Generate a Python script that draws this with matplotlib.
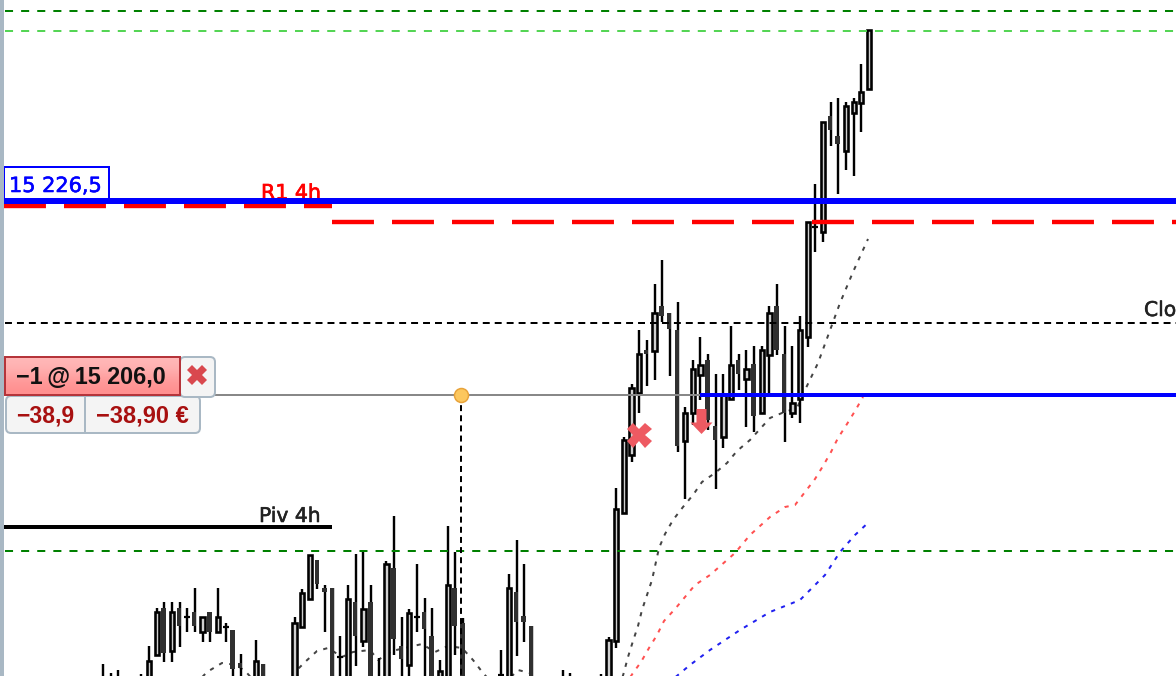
import matplotlib
matplotlib.use("Agg")
import matplotlib.pyplot as plt
import matplotlib.patheffects as pe
from matplotlib.patches import FancyBboxPatch, Rectangle
from matplotlib.path import Path
import numpy as np

plt.rcParams['lines.scale_dashes'] = False

# chart has no axis, values are read in chart rows (top = 0)
candle_idx = [0, 1, 2, 5, 6, 7, 8, 9, 10, 11, 12, 13, 14, 15, 16, 17, 18, 20, 21, 25, 26, 27, 28, 29, 30, 31, 32, 33, 34, 35,
              36, 37, 38, 39, 40, 41, 42, 43, 44, 45, 46, 47, 52, 53, 54, 55, 56, 60, 61, 65, 66, 67, 68, 69, 70, 71, 72, 73,
              74, 75, 76, 77, 78, 79, 80, 81, 82, 83, 84, 85, 86, 87, 88, 89, 90, 91, 92, 93, 94, 95, 96, 97, 98, 99, 100]
wick_top = [664, 673, 670, 674, 646, 608, 602, 602, 602, 608, 588, 617, 612, 588, 623, 630, 654, 640, 664, 617, 589, 555, 560, 585, 588, 636, 585, 554, 551, 585,
            658, 561, 516, 617, 609, 564, 598, 608, 660, 526, 552, 618, 650, 574, 540, 564, 626, 670, 673, 674, 637, 488, 437, 384, 330, 340, 284, 260,
            313, 302, 407, 360, 337, 354, 374, 374, 326, 354, 350, 346, 346, 306, 284, 326, 346, 316, 222, 184, 122, 102, 98, 102, 98, 64, 30]
wick_bot = [690, 690, 690, 690, 690, 655, 662, 662, 647, 632, 632, 642, 642, 632, 642, 690, 690, 690, 690, 690, 627, 599, 589, 632, 690, 690, 690, 666, 647, 690,
            690, 690, 655, 690, 690, 632, 690, 690, 690, 690, 655, 690, 690, 690, 656, 642, 690, 690, 690, 690, 690, 648, 513, 462, 413, 386, 380, 322,
            376, 452, 499, 425, 400, 430, 489, 448, 399, 390, 427, 432, 413, 393, 355, 442, 418, 423, 347, 252, 242, 146, 194, 170, 176, 132, 89]
body_top = [690, 690, 690, 690, 661, 612, 608, 612, 608, 617, 612, 617, 612, 617, 627, 630, 663, 661, 664, 623, 593, 555, 560, 588, 588, 657, 599, 602, 609, 602,
            690, 564, 568, 646, 613, 617, 612, 636, 671, 585, 588, 623, 675, 588, 592, 616, 626, 690, 690, 690, 640, 509, 440, 388, 354, 350, 313, 306,
            313, 330, 413, 369, 365, 360, 426, 395, 365, 360, 369, 364, 350, 313, 306, 354, 403, 330, 222, 227, 122, 116, 136, 106, 102, 92, 30]
body_bot = [690, 690, 690, 690, 690, 655, 653, 651, 626, 617, 626, 632, 632, 632, 627, 669, 668, 690, 690, 690, 627, 599, 584, 592, 690, 657, 690, 636, 641, 690,
            690, 690, 639, 659, 665, 617, 629, 690, 690, 690, 626, 690, 675, 690, 622, 622, 690, 690, 690, 690, 690, 641, 513, 455, 393, 354, 351, 316,
            329, 446, 441, 413, 375, 420, 440, 437, 399, 374, 379, 416, 413, 355, 350, 413, 413, 399, 337, 227, 232, 130, 144, 151, 113, 103, 89]
candle_dir = [0, 0, 0, 0, 1, 1, -1, 1, -1, 0, -1, 1, -1, 1, 0, -1, -1, 1, -1, 1, 1, 1, -1, -1, -1, 0, 1, -1, 1, -1,
              0, 1, -1, -1, 1, 0, -1, -1, 1, 1, -1, -1, 0, 1, -1, -1, -1, 0, 0, 0, 1, 1, 1, 1, 1, -1, 1, -1,
              -1, -1, 1, 1, 1, -1, -1, 1, 1, -1, 1, -1, 1, 1, -1, -1, 1, 1, 1, 0, 1, -1, -1, 1, 1, 1, 1]

ma_black_x = [190, 207, 222, 237, 247, 262, 285, 297, 305, 317, 328, 342, 353, 370, 378, 392, 405, 422, 435, 448, 462, 473, 483, 494, 508, 518, 530, 542, 616,
              624, 628, 633, 638, 642, 647, 652, 659, 665, 673, 683, 693, 702, 715, 727, 737, 750, 770, 782, 797, 805, 818, 829, 840, 853, 868]
ma_black_y = [690, 672, 663, 665, 673, 690, 690, 670, 662, 651, 648, 657, 652, 650, 660, 651, 648, 644, 652, 646, 648, 660, 673, 685, 680, 670, 673, 685, 700,
              672, 657, 641, 626, 610, 595, 580, 548, 534, 520, 507, 495, 482, 473, 463, 451, 440, 418, 413, 408, 390, 363, 333, 303, 272, 239]
ma_red_x = [625, 633, 641, 649, 657, 664, 675, 695, 710, 735, 750, 770, 785, 795, 805, 815, 823, 831, 838, 847, 855, 863]
ma_red_y = [685, 673, 662, 648, 635, 621, 609, 585, 575, 553, 535, 517, 507, 505, 492, 479, 466, 452, 438, 424, 411, 397]
ma_blue_x = [672, 690, 710, 740, 770, 800, 825, 840, 855, 870]
ma_blue_y = [680, 665, 650, 630, 612, 600, 575, 552, 535, 521]

level_green = [11, 550.5]
level_lightgreen = 31
level_close = 323
level_pos_blue = 200.5
level_order = 394.5
level_r1 = [205.5, 221.5]
level_piv = 527
trade_x = [639, 701]
trade_y = [435, 420.5]

first_bar = 103
bar_step = 7.66
px = 0.72  # one screen pixel in points

fig = plt.figure(figsize=(11.76, 6.76), dpi=100)
ax = fig.add_axes([0, 0, 1, 1])
ax.axis('off')

# moving averages
ma_dash = (0, (3, 4.6))
ax.plot(ma_black_x, ma_black_y, color='#444444', lw=2*px, ls=ma_dash, zorder=1)
ax.plot(ma_red_x, ma_red_y, color='#ff5050', lw=2*px, ls=ma_dash, zorder=1)
ax.plot(ma_blue_x, ma_blue_y, color='#2020f0', lw=2*px, ls=ma_dash, zorder=1)

# candles
xs = first_bar + np.array(candle_idx)*bar_step
tops = np.array(body_top)
bots = np.array(body_bot)
dirs = np.array(candle_dir)
ax.vlines(xs, wick_top, wick_bot, color='black', lw=2.4*px, zorder=2)
up = dirs == 1
down = dirs == -1
flat = dirs == 0
ax.bar(xs[up], (bots-tops)[up], bottom=tops[up], width=4.2, color='#cfcfcf', edgecolor='black', lw=2.6*px, zorder=3)
ax.bar(xs[down]-0.7, (bots-tops)[down], bottom=tops[down], width=4.4, color='#303030', lw=0, zorder=3)
ax.hlines(tops[flat], xs[flat]-3, xs[flat]+3, color='black', lw=2.2*px, zorder=3)

# horizontal levels
level_dash = (0, (5.8, 5.8))
for lvl in level_green:
    ax.plot([5, 1176], [lvl, lvl], color='#008000', lw=2*px, ls=level_dash, zorder=4)
ax.plot([5, 1176], [level_lightgreen, level_lightgreen], color='#55d555', lw=2*px, ls=level_dash, zorder=4)
ax.plot([5, 1176], [level_close, level_close], color='black', lw=2*px, ls=(0, (5, 3.6)), zorder=4)
red_dash = (0, (30.2, 13))
ax.plot([4, 332], [level_r1[0], level_r1[0]], color='#ff0000', lw=4.4*px, ls=red_dash, zorder=4)
ax.plot([332, 1176], [level_r1[1], level_r1[1]], color='#ff0000', lw=4.4*px, ls=red_dash, zorder=4)
ax.plot([4, 332], [level_piv, level_piv], color='black', lw=4*px, solid_capstyle='butt', zorder=4)
ax.plot([215, 700], [level_order, level_order], color='#888888', lw=2*px, solid_capstyle='butt', zorder=4)
ax.plot([700, 1176], [level_order, level_order], color='#0000ff', lw=4*px, solid_capstyle='butt', zorder=5)

heavy_red = [pe.withStroke(linewidth=0.5, foreground='#ff0000')]
heavy_dark = [pe.withStroke(linewidth=0.4, foreground='#222222')]
heavy_blue = [pe.withStroke(linewidth=0.4, foreground='#0000ff')]
ax.text(261, 199, 'R1 4h', color='#ff0000', fontsize=14.8, path_effects=heavy_red, zorder=5)
ax.plot([4, 1176], [level_pos_blue, level_pos_blue], color='#0000ff', lw=6*px, solid_capstyle='butt', zorder=6)
ax.text(259, 522, 'Piv 4h', color='#222222', fontsize=14.6, path_effects=heavy_dark, zorder=5)
ax.text(1144, 316, 'Clo', color='#222222', fontsize=14.6, path_effects=heavy_dark, zorder=5)

# entry connector
ax.plot([461, 461], [level_order, 690], color='black', lw=2*px, ls=(0, (4.3, 3)), zorder=4)
ax.plot([461], [level_order], 'o', ms=14*px, mfc='#fcc75e', mec='#e8a33a', mew=1.5*px, zorder=7)

# trade markers
arrow = Path([(-5, 12.5), (5, 12.5), (5, -1), (11, -1), (0, -12.5), (-11, -1), (-5, -1), (-5, 12.5)], closed=True)
ax.plot(trade_x[0], trade_y[0], marker='X', ms=25*px, color='#ee5a62', mew=0, zorder=7)
ax.plot(trade_x[1], trade_y[1], marker=arrow, ms=25*px, color='#ee5a62', mew=0, zorder=7)

# left edge
ax.add_patch(Rectangle((0, 0), 3.5, 676, color='#a9b8c4', lw=0, zorder=8))

# blue price tag
ax.add_patch(Rectangle((4, 167), 105, 32, fc='white', ec='#0000ff', lw=2*px, zorder=5))
ax.text(9, 192, '15 226,5', color='#0000ff', fontsize=15, path_effects=heavy_blue, zorder=7)

# order panel
ax.add_patch(FancyBboxPatch((8, 398), 190, 33, boxstyle='round,pad=2,rounding_size=5', fc='#f4f4f4', ec='#a9b8c4', lw=2*px, zorder=8))
ax.plot([85, 85], [395, 432], color='#a9b8c4', lw=2*px, zorder=9)
ax.add_patch(FancyBboxPatch((182, 359), 31, 36, boxstyle='round,pad=2,rounding_size=5', fc='#f4f4f4', ec='#a9b8c4', lw=2*px, zorder=8))
ax.imshow(np.array([[0], [1]]), extent=(5, 180, 395, 357), cmap=matplotlib.colors.LinearSegmentedColormap.from_list('o', ['#ffb9b9', '#ff8e8e']),
          aspect='auto', interpolation='bicubic', zorder=9)
ax.add_patch(Rectangle((5, 357), 175, 38, fc='none', ec='#b5343a', lw=2*px, zorder=10))
ax.plot(197, 375, marker='X', ms=20*px, color='#d9484e', mew=0, zorder=10)
ax.text(16, 384, '\u22121\u2009@\u200915 206,0', color='#111111', fontsize=16.8, fontweight='bold', family='Liberation Sans', zorder=11)
ax.text(16, 422, '\u221238,9', color='#a81010', fontsize=16.5, fontweight='bold', family='Liberation Sans', zorder=11)
ax.text(96, 422, '\u221238,90 \u20ac', color='#a81010', fontsize=17, fontweight='bold', family='Liberation Sans', zorder=11)

ax.set_xlim(0, 1176)
ax.set_ylim(676, 0)
fig.savefig('out.png', dpi=100)
